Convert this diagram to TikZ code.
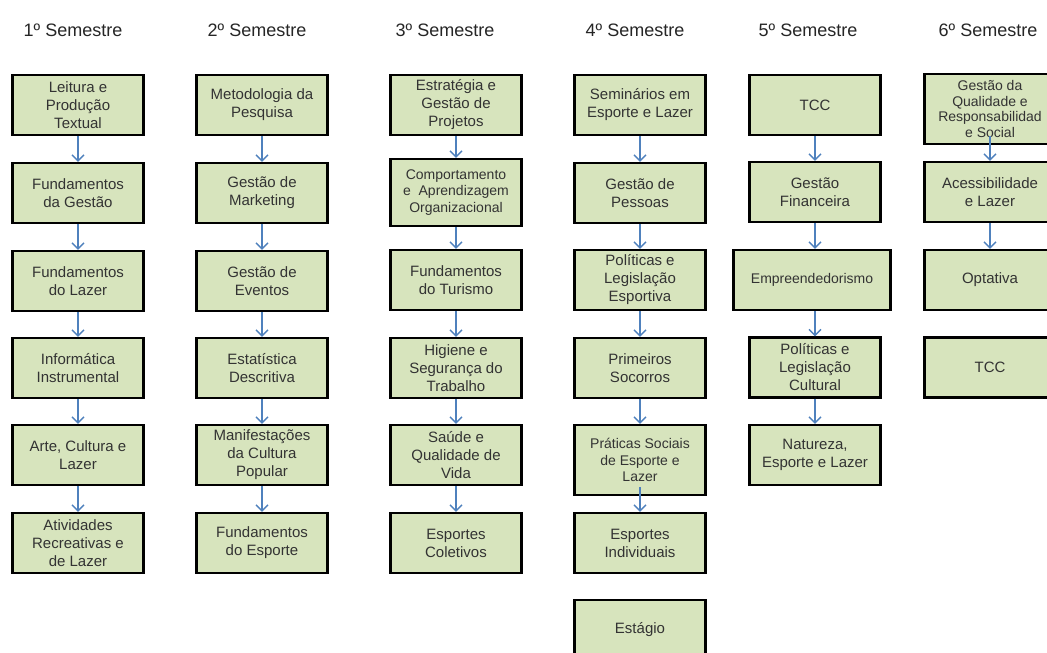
\documentclass[tikz,border=0pt]{standalone}
\usepackage{fontspec}
\setmainfont{Liberation Sans}
\usepackage{tikz}
\usetikzlibrary{arrows.meta}
\definecolor{boxgreen}{HTML}{D7E4BD}
\definecolor{flowblue}{HTML}{4F81BD}
\definecolor{textgray}{HTML}{333333}

\tikzset{
  disc/.style={draw=black, line width=2.4pt, fill=boxgreen, text=textgray,
    minimum width=131pt, minimum height=60pt, inner sep=0pt, align=center,
    font=\fontsize{15}{18}\selectfont},
  smalltxt/.style={font=\fontsize{14}{16.5}\selectfont},
  flow/.style={flowblue, line width=1.3pt, -{Straight Barb[length=6pt,width=12pt]}},
  sem/.style={anchor=base, font=\fontsize{18}{20}\selectfont, text=black!85}
}

\begin{document}
\begin{tikzpicture}[x=1pt, y=-1pt]
  \fill[white] (0,0) rectangle (1047,653);
  \useasboundingbox (0,0) rectangle (1047,653);

  % ── 1º Semestre ──
  \node[sem] (h1) at (73,36) {1º Semestre};
  \node[disc] (leit) at (78,105) {Leitura e\\Produção\\Textual};
  \node[disc] (fges) at (78,193) {Fundamentos\\da Gestão};
  \node[disc] (flaz) at (78,281) {Fundamentos\\do Lazer};
  \node[disc] (info) at (78,368) {Informática\\Instrumental};
  \node[disc] (arte) at (78,455) {Arte, Cultura e\\Lazer};
  \node[disc] (ativ) at (78,543) {Atividades\\Recreativas e\\de Lazer};

  % ── 2º Semestre ──
  \node[sem] (h2) at (257,36) {2º Semestre};
  \node[disc] (meto) at (262,105) {Metodologia da\\Pesquisa};
  \node[disc] (mark) at (262,193) {Gestão de\\Marketing};
  \node[disc] (even) at (262,281) {Gestão de\\Eventos};
  \node[disc] (esta) at (262,368) {Estatística\\Descritiva};
  \node[disc] (mani) at (262,455) {Manifestações\\da Cultura\\Popular};
  \node[disc] (fesp) at (262,543) {Fundamentos\\do Esporte};

  % ── 3º Semestre ──
  \node[sem] (h3) at (445,36) {3º Semestre};
  \node[disc] (estr) at (456,105) {Estratégia e\\Gestão de\\Projetos};
  \node[disc, smalltxt, minimum height=67pt] (comp) at (456,192.5)
    {Comportamento\\e\ \ Aprendizagem\\Organizacional};
  \node[disc] (ftur) at (456,280) {Fundamentos\\do Turismo};
  \node[disc] (higi) at (456,368) {Higiene e\\Segurança do\\Trabalho};
  \node[disc] (saud) at (456,455) {Saúde e\\Qualidade de\\Vida};
  \node[disc] (colt) at (456,543) {Esportes\\Coletivos};

  % ── 4º Semestre ──
  \node[sem] (h4) at (635,36) {4º Semestre};
  \node[disc] (semi) at (640,105) {Seminários em\\Esporte e Lazer};
  \node[disc] (pess) at (640,193) {Gestão de\\Pessoas};
  \node[disc] (pesp) at (640,280) {Políticas e\\Legislação\\Esportiva};
  \node[disc] (prim) at (640,368) {Primeiros\\Socorros};
  \node[disc, smalltxt, minimum height=70pt] (prat) at (640,460)
    {Práticas Sociais\\de Esporte e\\Lazer};
  \node[disc] (indv) at (640,543) {Esportes\\Individuais};
  \node[disc] (estg) at (640,630) {Estágio};

  % ── 5º Semestre ──
  \node[sem] (h5) at (808,36) {5º Semestre};
  \node[disc] (tcca) at (815,105) {TCC};
  \node[disc] (fina) at (815,192) {Gestão\\Financeira};
  \node[disc, smalltxt, minimum width=157pt] (empr) at (812,280) {Empreendedorismo};
  \node[disc] (pcul) at (815,367.5) {Políticas e\\Legislação\\Cultural};
  \node[disc] (natu) at (815,455) {Natureza,\\Esporte e Lazer};

  % ── 6º Semestre ──
  \node[sem] (h6) at (988,36) {6º Semestre};
  \node[disc, font=\fontsize{14}{15.5}\selectfont, minimum height=70pt] (qual)
    at (990,109) {Gestão da\\Qualidade e\\Responsabilidad\\e Social};
  \node[disc] (aces) at (990,192) {Acessibilidade\\e Lazer};
  \node[disc] (opta) at (990,280) {Optativa};
  \node[disc] (tccb) at (990,367.5) {TCC};

  % Arrows down each column
  \foreach \a/\b in {leit/fges, fges/flaz, flaz/info, info/arte, arte/ativ,
      meto/mark, mark/even, even/esta, esta/mani, mani/fesp,
      estr/comp, comp/ftur, ftur/higi, higi/saud, saud/colt,
      semi/pess, pess/pesp, pesp/prim, prim/prat,
      tcca/fina, pcul/natu, aces/opta}
    \draw[flow] (\a) -- (\b);
  \draw[flow] ([yshift=9pt]prat.south) -- (indv);
  \draw[flow] ([yshift=9pt]qual.south) -- (aces);
  \draw[flow] (fina.south) -- (fina.south |- empr.north);
  \draw[flow] (pcul.north |- empr.south) -- (pcul.north);

\end{tikzpicture}
\end{document}
